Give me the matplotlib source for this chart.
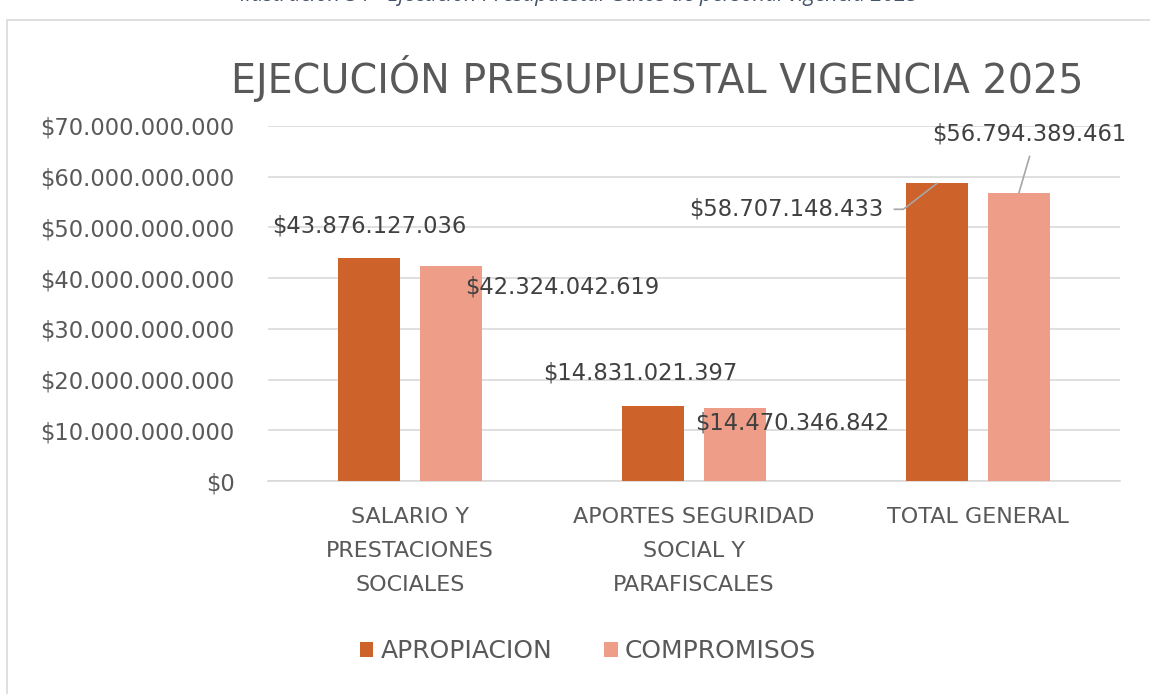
import matplotlib
matplotlib.use("Agg")
import matplotlib.pyplot as plt
import numpy as np
from matplotlib.patches import Rectangle

categories = ["SALARIO Y\nPRESTACIONES\nSOCIALES", "APORTES SEGURIDAD\nSOCIAL Y\nPARAFISCALES", "TOTAL GENERAL"]
series_names = ["APROPIACION", "COMPROMISOS"]
apropiacion = [43876127036, 14831021397, 58707148433]
compromisos = [42324042619, 14470346842, 56794389461]
yticks = [0, 10e9, 20e9, 30e9, 40e9, 50e9, 60e9, 70e9]
title = "EJECUCIÓN PRESUPUESTAL VIGENCIA 2025"
caption = "Ilustración 34 - Ejecución Presupuestal Gatos de personal vigencia 2025"

C_APR = "#CD622B"
C_COM = "#EE9E88"
TXT = "#595959"
LBL = "#404040"

plt.rcParams['font.family'] = ['DejaVu Sans']

fig = plt.figure(figsize=(11.5, 6.94), dpi=100)
W, H = 1150, 694

# chart border
fig.add_artist(Rectangle((7 / W, -0.05), 1.1, 1 - 20 / H + 0.05, transform=fig.transFigure,
                         fill=False, edgecolor="#D9D9D9", linewidth=1.2))
# caption (clipped at top, as in the source)
fig.text(579 / W, 1 + 4 / H, caption, ha="center", va="center", fontsize=15.5,
         style="italic", color="#44546A", family=["Open Sans", "DejaVu Sans"])

ax = fig.add_axes([268 / W, 1 - 481 / H, (1120 - 268) / W, (481 - 126) / H])

x = np.arange(len(categories))
bw = 0.218
off = 0.144
b1 = ax.bar(x - off, apropiacion, bw, color=C_APR, label=series_names[0], zorder=3)
b2 = ax.bar(x + off, compromisos, bw, color=C_COM, label=series_names[1], zorder=3)

ax.set_xlim(-0.5, len(categories) - 0.5)
ax.set_ylim(0, 70e9)
ax.set_yticks(yticks)
ax.set_yticklabels(["$" + f"{v:,.0f}".replace(",", ".") for v in yticks])
ax.set_xticks(x)
ax.set_xticklabels(categories, linespacing=1.85)
ax.tick_params(axis="y", length=0, pad=24, labelsize=16.3, labelcolor=TXT)
ax.tick_params(axis="x", length=0, pad=19, labelsize=16, labelcolor=TXT)
ax.grid(axis="y", color="#D9D9D9", linewidth=1.2, zorder=0)
for s in ["top", "right", "left"]:
    ax.spines[s].set_visible(False)
ax.spines["bottom"].set_color("#D9D9D9")
ax.spines["bottom"].set_linewidth(1.2)
ax.set_axisbelow(True)

def fmt(v):
    return "$" + f"{v:,.0f}".replace(",", ".")

# label offsets in pixels relative to bar top centre
offsets_apr = [(0, 32), (-13, 33), (-159, -26)]
offsets_com = [(111, -21), (57, -15), (10, 59)]

for i, rect in enumerate(b1):
    cx = rect.get_x() + rect.get_width() / 2
    top = rect.get_height()
    dx, dy = offsets_apr[i]
    if i == 2:
        ax.annotate(fmt(apropiacion[i]), (cx, top), xytext=(dx + 105, dy), textcoords="offset pixels",
                    ha="right", va="center", fontsize=16.3, color=LBL, zorder=5,
                    arrowprops=dict(arrowstyle="-", color="#A6A6A6", lw=1.2, shrinkA=6, shrinkB=0,
                                    relpos=(1, 0.5),
                                    connectionstyle="angle,angleA=0,angleB=37.7,rad=0"))
    else:
        ax.annotate(fmt(apropiacion[i]), (cx, top), xytext=(dx, dy), textcoords="offset pixels",
                    ha="center", va="center", fontsize=16.3, color=LBL, zorder=5)

for i, rect in enumerate(b2):
    cx = rect.get_x() + rect.get_width() / 2
    top = rect.get_height()
    dx, dy = offsets_com[i]
    if i == 2:
        ax.annotate(fmt(compromisos[i]), (cx, top), xytext=(dx, dy), textcoords="offset pixels",
                    ha="center", va="center", fontsize=16.3, color=LBL, zorder=5,
                    arrowprops=dict(arrowstyle="-", color="#A6A6A6", lw=1.2, shrinkA=6, shrinkB=0,
                                    relpos=(0.52, 0)))
    else:
        ax.annotate(fmt(compromisos[i]), (cx, top), xytext=(dx, dy), textcoords="offset pixels",
                    ha="center", va="center", fontsize=16.3, color=LBL, zorder=5)

fig.text(657.5 / W, 1 - 79 / H, title, ha="center", va="center", fontsize=28.5, color=TXT)

leg = fig.legend(handles=[b1, b2], labels=series_names, loc="center", bbox_to_anchor=(588 / W, 1 - 651 / H),
                 ncol=2, frameon=False, fontsize=18, handlelength=0.55, handleheight=0.55,
                 handletextpad=0.3, columnspacing=2.05)
for t in leg.get_texts():
    t.set_color(TXT)

fig.savefig("out.png", dpi=100)
